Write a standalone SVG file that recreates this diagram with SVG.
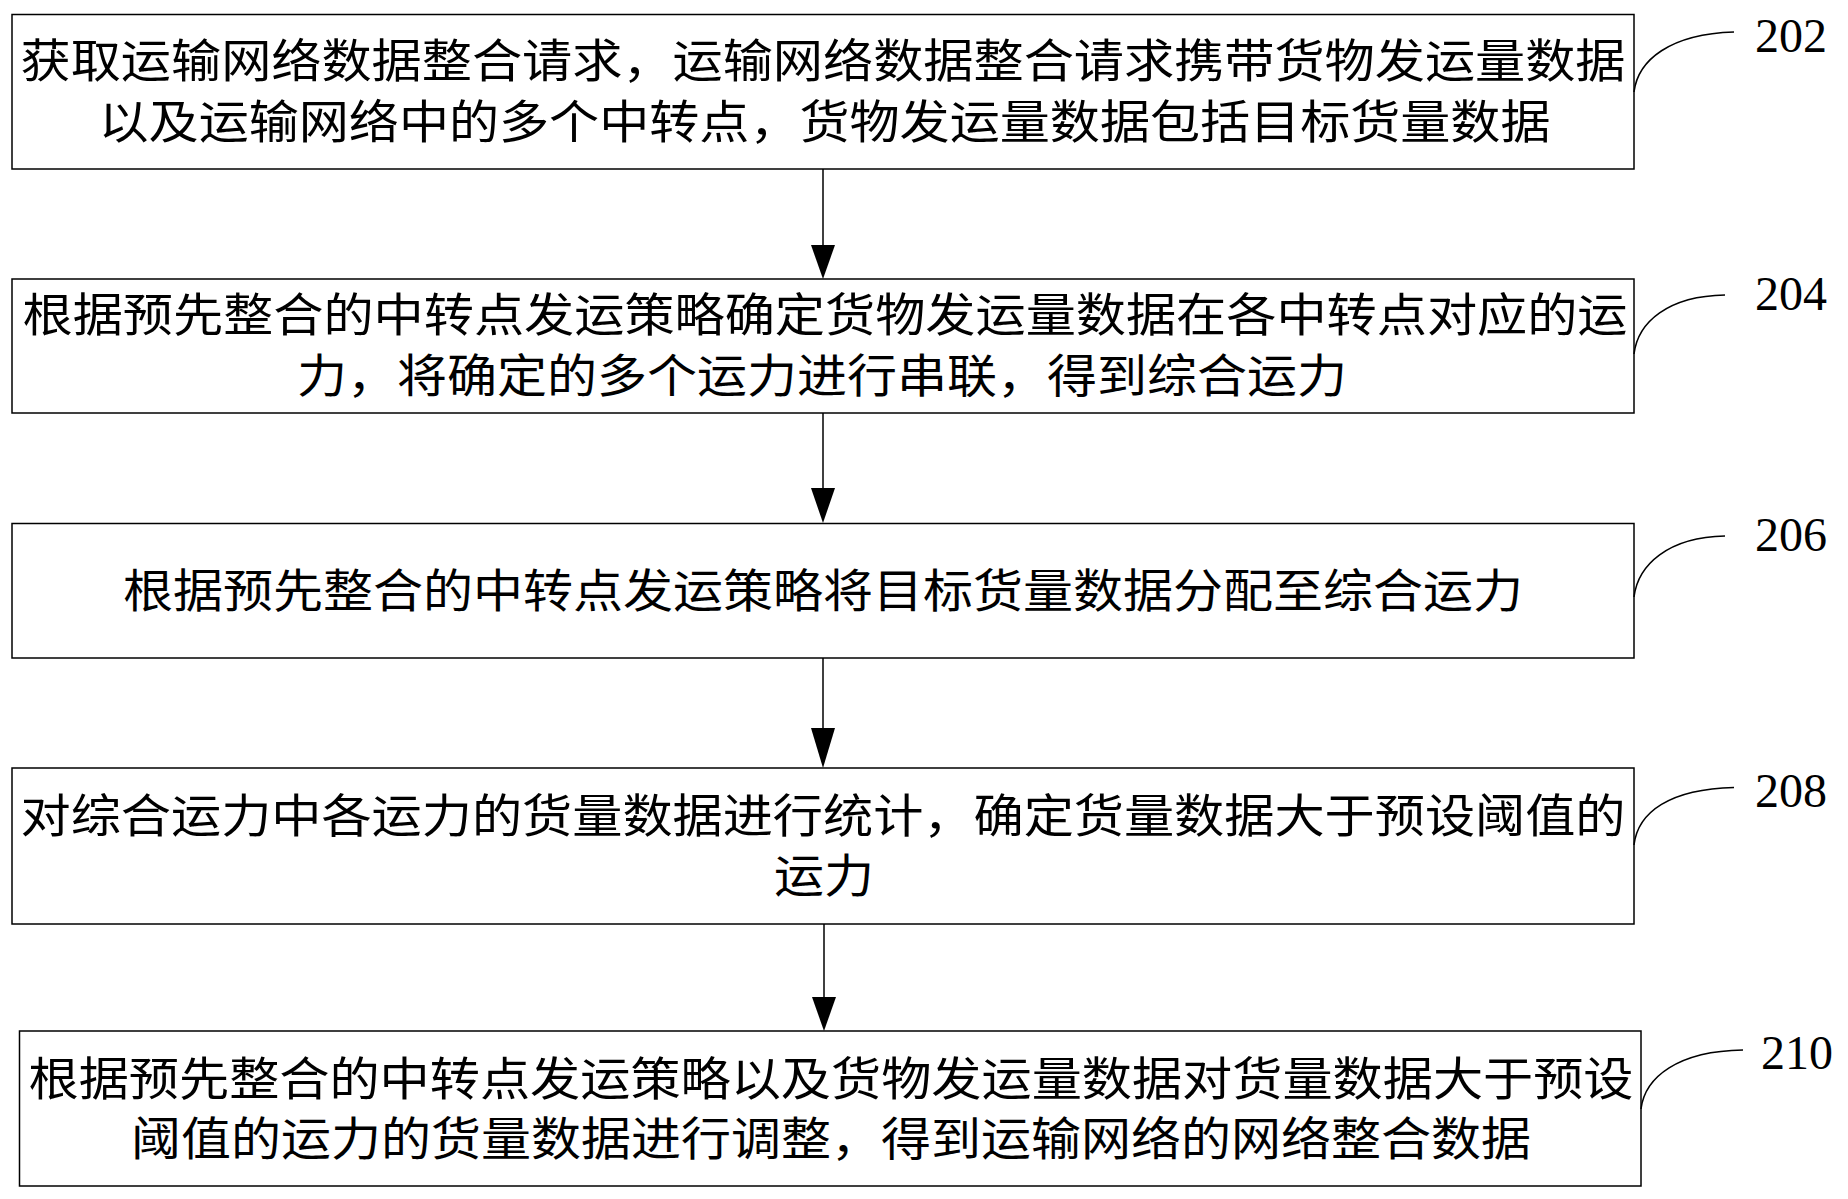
<svg xmlns="http://www.w3.org/2000/svg" width="1848" height="1199" viewBox="0 0 1848 1199">
<style>
  .box { fill: #ffffff; stroke: #000000; stroke-width: 1.5; }
  .txt { font-family: "Noto Sans CJK SC", sans-serif; font-size: 46px; fill: #000000; text-anchor: middle; }
  .num { font-family: "Liberation Serif", serif; font-size: 48px; fill: #000000; }
  .lead { fill: none; stroke: #000000; stroke-width: 1.5; }
  .conn { stroke: #000000; stroke-width: 1.5; fill: none; }
  .head { fill: #000000; stroke: none; }
</style>
<rect width="1848" height="1199" fill="#ffffff"/>

<g id="node-202">
  <rect class="box" x="12" y="14.5" width="1622" height="154.5"/>
  <text class="txt" x="823" y="77" textLength="1605" lengthAdjust="spacingAndGlyphs">获取运输网络数据整合请求，运输网络数据整合请求携带货物发运量数据</text>
  <text class="txt" x="824.5" y="138" textLength="1452" lengthAdjust="spacingAndGlyphs">以及运输网络中的多个中转点，货物发运量数据包括目标货量数据</text>
  <path class="lead" d="M1634,92 C1638,60 1670,34 1734,32"/>
  <text class="num" x="1755" y="52">202</text>
</g>

<g id="node-204">
  <rect class="box" x="12" y="279" width="1622" height="134"/>
  <text class="txt" x="825" y="330.5" textLength="1605" lengthAdjust="spacingAndGlyphs">根据预先整合的中转点发运策略确定货物发运量数据在各中转点对应的运</text>
  <text class="txt" x="822" y="392" textLength="1050" lengthAdjust="spacingAndGlyphs">力，将确定的多个运力进行串联，得到综合运力</text>
  <path class="lead" d="M1634,354 C1638,322 1668,296 1725,295"/>
  <text class="num" x="1755" y="310">204</text>
</g>

<g id="node-206">
  <rect class="box" x="12" y="523.5" width="1622" height="134.5"/>
  <text class="txt" x="823" y="607" textLength="1400" lengthAdjust="spacingAndGlyphs">根据预先整合的中转点发运策略将目标货量数据分配至综合运力</text>
  <path class="lead" d="M1634,597 C1638,565 1668,537 1725,536"/>
  <text class="num" x="1755" y="551">206</text>
</g>

<g id="node-208">
  <rect class="box" x="12" y="768" width="1622" height="156"/>
  <text class="txt" x="823" y="832" textLength="1605" lengthAdjust="spacingAndGlyphs">对综合运力中各运力的货量数据进行统计，确定货量数据大于预设阈值的</text>
  <text class="txt" x="824" y="892" textLength="100" lengthAdjust="spacingAndGlyphs">运力</text>
  <path class="lead" d="M1634,845 C1638,812 1670,789 1734,787.5"/>
  <text class="num" x="1755" y="807">208</text>
</g>

<g id="node-210">
  <rect class="box" x="19.5" y="1031" width="1621.5" height="155"/>
  <text class="txt" x="831" y="1095" textLength="1605" lengthAdjust="spacingAndGlyphs">根据预先整合的中转点发运策略以及货物发运量数据对货量数据大于预设</text>
  <text class="txt" x="831" y="1155" textLength="1400" lengthAdjust="spacingAndGlyphs">阈值的运力的货量数据进行调整，得到运输网络的网络整合数据</text>
  <path class="lead" d="M1641,1109 C1645,1077 1678,1051 1743,1050"/>
  <text class="num" x="1761" y="1069">210</text>
</g>

<g id="connectors">
  <line class="conn" x1="823" y1="169" x2="823" y2="250"/>
  <polygon class="head" points="811,245 835,245 823,279"/>
  <line class="conn" x1="823" y1="413" x2="823" y2="492"/>
  <polygon class="head" points="811,488 835,488 823,523"/>
  <line class="conn" x1="823" y1="658" x2="823" y2="732"/>
  <polygon class="head" points="811,728 835,728 823,768"/>
  <line class="conn" x1="824" y1="924" x2="824" y2="1000"/>
  <polygon class="head" points="812,997 836,997 824,1031"/>
</g>
</svg>
